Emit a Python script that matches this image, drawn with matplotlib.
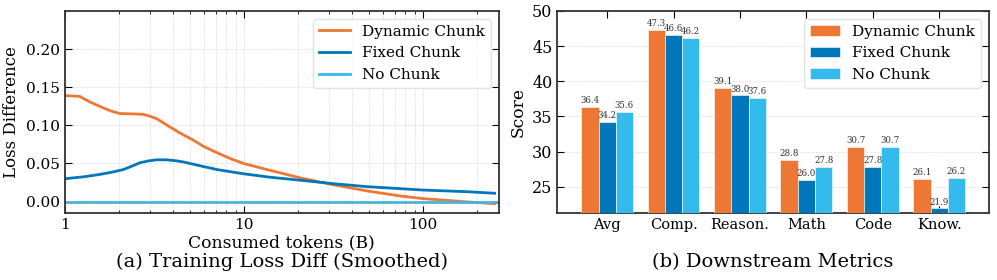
import matplotlib
matplotlib.use('Agg')
import matplotlib.pyplot as plt
import numpy as np

# Data
tokens_dyn = [1, 1.21, 1.4, 1.6, 1.8, 2.03, 2.4, 2.73, 3.0, 3.3, 3.86, 4.4, 5.19, 6.0, 7.1, 8.5, 10,
              13.5, 20.8, 31.8, 49, 75, 100, 143, 178, 252]
loss_dyn = [0.139, 0.138, 0.130, 0.124, 0.119, 0.1155, 0.115, 0.1145, 0.112, 0.108, 0.098, 0.090,
            0.081, 0.072, 0.064, 0.056, 0.050, 0.042, 0.031, 0.022, 0.014, 0.0074, 0.004, 0.0013,
            -0.0004, -0.0026]
tokens_fix = [1, 1.3, 1.57, 1.85, 2.12, 2.4, 2.63, 2.95, 3.26, 3.7, 4.2, 4.6, 5.7, 7.1, 10, 14,
              20.8, 31.8, 49, 75, 100, 178, 252]
loss_fix = [0.030, 0.0328, 0.0357, 0.0388, 0.042, 0.047, 0.051, 0.0535, 0.0548, 0.0548, 0.0535,
            0.052, 0.047, 0.042, 0.0365, 0.032, 0.028, 0.0235, 0.0196, 0.017, 0.0152, 0.013, 0.011]
loss_none = [0.0, 0.0]

categories = ['Avg', 'Comp.', 'Reason.', 'Math', 'Code', 'Know.']
score_dyn = [36.4, 47.3, 39.1, 28.8, 30.7, 26.1]
score_fix = [34.2, 46.6, 38.0, 26.0, 27.8, 21.9]
score_none = [35.6, 46.2, 37.6, 27.8, 30.7, 26.2]

c_orange = '#EE7733'
c_blue = '#0077BB'
c_cyan = '#33BBEE'

plt.rcParams['font.family'] = 'DejaVu Serif'
plt.rcParams['axes.edgecolor'] = '#333333'
plt.rcParams['axes.linewidth'] = 1.3

fig = plt.figure(figsize=(9.97, 2.8), dpi=100)
ax1 = fig.add_axes([0.065, 0.239, 0.435, 0.722])
ax2 = fig.add_axes([0.559, 0.239, 0.433, 0.722])

# Left: loss difference
ax1.plot(tokens_dyn, loss_dyn, color=c_orange, lw=2, label='Dynamic Chunk')
ax1.plot(tokens_fix, loss_fix, color=c_blue, lw=2, label='Fixed Chunk')
ax1.plot([1, 265], loss_none, color=c_cyan, lw=2, label='No Chunk')
ax1.axhline(0, color='#999999', ls='--', lw=0.6)
ax1.set_xscale('log')
ax1.set_xlim(1, 265)
ax1.set_ylim(-0.015, 0.25)
ax1.set_yticks([0, 0.05, 0.10, 0.15, 0.20])
ax1.set_yticklabels(['0.00', '0.05', '0.10', '0.15', '0.20'])
ax1.set_xticks([1, 10, 100])
ax1.set_xticklabels(['1', '10', '100'])
ax1.grid(True, which='both', ls='--', lw=0.5, color='#dddddd')
ax1.tick_params(which='both', direction='in', top=True, right=True, labelsize=11)
ax1.tick_params(which='major', length=5)
ax1.set_ylabel('Loss Difference', fontsize=12)
ax1.set_xlabel('Consumed tokens (B)', fontsize=12.3, labelpad=2)
ax1.legend(loc='upper right', fontsize=11, frameon=True, edgecolor='#dddddd', fancybox=True)

# Right: downstream metrics
x = np.arange(len(categories))
w = 0.26
for off, vals, col, lab in [(-w, score_dyn, c_orange, 'Dynamic Chunk'),
                            (0, score_fix, c_blue, 'Fixed Chunk'),
                            (w, score_none, c_cyan, 'No Chunk')]:
    bars = ax2.bar(x + off, vals, w, color=col, label=lab, edgecolor='white', linewidth=0.4, zorder=3)
    for b, v in zip(bars, vals):
        ax2.text(b.get_x() + b.get_width() / 2, v + 0.25, f'{v:.1f}', ha='center', va='bottom',
                 fontsize=6.2, color='#333333', zorder=4)
ax2.set_xticks(x)
ax2.set_xticklabels(categories)
ax2.set_xlim(-0.75, 5.75)
ax2.set_ylim(min(score_fix) * 0.97, 50)
ax2.set_yticks([25, 30, 35, 40, 45, 50])
ax2.grid(True, axis='y', ls='--', lw=0.5, color='#dddddd', zorder=0)
ax2.tick_params(direction='in', top=True, right=True, length=5)
ax2.tick_params(axis='y', labelsize=11.5)
ax2.tick_params(axis='x', labelsize=10.5)
ax2.set_ylabel('Score', fontsize=12.3)
ax2.legend(loc='upper right', fontsize=11, frameon=True, edgecolor='#dddddd', fancybox=True)

fig.text(0.283, 0.065, '(a) Training Loss Diff (Smoothed)', ha='center', va='center', fontsize=14)
fig.text(0.775, 0.065, '(b) Downstream Metrics', ha='center', va='center', fontsize=14)

fig.savefig('out.png', dpi=100)
